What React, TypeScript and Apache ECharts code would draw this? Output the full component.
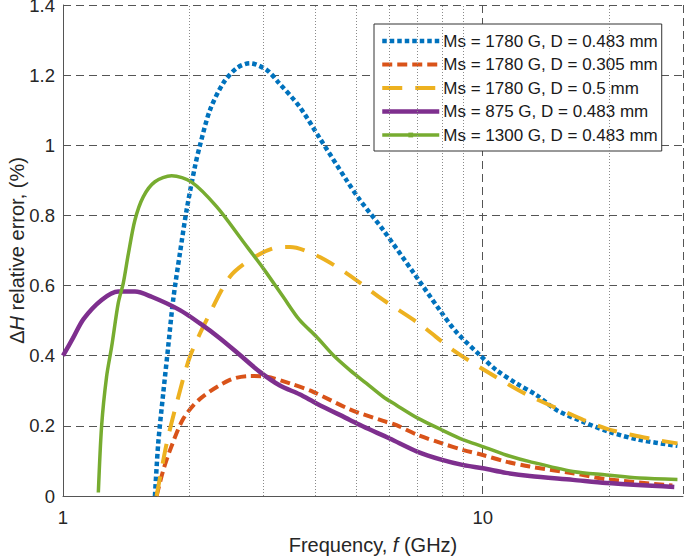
import React, { useEffect, useRef } from "react";
import * as echarts from "echarts";

// ---- data (frequency in GHz, error in %) ----
const blueF = [1.656, 1.686, 1.733, 1.781, 1.83, 1.899, 1.97, 2.062, 2.12, 2.239, 2.408, 2.593, 2.788, 3.055, 3.256, 3.66, 4.09, 4.74, 5.09, 5.78, 6.81, 7.9, 8.66, 9.84, 10.78, 12.03, 13.42, 15, 17.3, 20, 23.6, 29.1];
const blueV = [0, 0.15, 0.293, 0.426, 0.559, 0.692, 0.815, 0.939, 1.0, 1.1, 1.177, 1.22, 1.234, 1.215, 1.18, 1.11, 1.02, 0.9, 0.845, 0.76, 0.64, 0.53, 0.467, 0.402, 0.359, 0.321, 0.288, 0.245, 0.212, 0.183, 0.16, 0.143];

const redF = [1.671, 1.73, 1.798, 1.934, 2.12, 2.498, 2.788, 3.055, 3.471, 3.944, 4.824, 5.79, 6.23, 7, 8, 9, 10, 11.36, 12.94, 16.4, 19.7, 28.3];
const redV = [0, 0.07, 0.13, 0.22, 0.277, 0.331, 0.342, 0.34, 0.321, 0.297, 0.247, 0.214, 0.202, 0.174, 0.15, 0.131, 0.117, 0.098, 0.084, 0.065, 0.048, 0.03];

const yellowF = [1.671, 1.766, 1.865, 2.006, 2.218, 2.498, 2.788, 3.168, 3.47, 4.03, 4.74, 5.78, 7.08, 8.5, 10.39, 12.7, 15.85, 19.7, 25.4, 29.1];
const yellowV = [0, 0.15, 0.264, 0.397, 0.511, 0.625, 0.673, 0.706, 0.71, 0.685, 0.635, 0.56, 0.49, 0.416, 0.35, 0.29, 0.238, 0.192, 0.162, 0.15];

const purpleF = [1.0, 1.056, 1.12, 1.236, 1.354, 1.484, 1.626, 1.899, 2.12, 2.364, 2.64, 2.944, 3.287, 3.66, 4.018, 4.824, 5.19, 6.0, 7, 8, 9, 10, 11.36, 12.94, 16.4, 19.7, 28.6];
const purpleV = [0.4, 0.45, 0.505, 0.559, 0.583, 0.583, 0.568, 0.53, 0.492, 0.45, 0.402, 0.354, 0.315, 0.29, 0.264, 0.217, 0.198, 0.164, 0.126, 0.103, 0.088, 0.079, 0.066, 0.057, 0.046, 0.037, 0.026];

const greenF = [1.214, 1.236, 1.27, 1.306, 1.354, 1.392, 1.431, 1.484, 1.553, 1.656, 1.815, 2.025, 2.323, 2.688, 3.0, 3.346, 3.66, 4.018, 4.4, 4.824, 5.285, 5.79, 6.23, 7, 8, 9, 10, 11.36, 12.94, 16.4, 19.7, 23.6, 29.1];
const greenV = [0.01, 0.2, 0.34, 0.426, 0.55, 0.607, 0.69, 0.787, 0.853, 0.896, 0.913, 0.895, 0.825, 0.725, 0.649, 0.568, 0.502, 0.454, 0.402, 0.359, 0.321, 0.283, 0.259, 0.222, 0.188, 0.16, 0.141, 0.117, 0.098, 0.07, 0.06, 0.051, 0.047];

const seriesNames = [
  "Ms = 1780 G, D = 0.483 mm",
  "Ms = 1780 G, D = 0.305 mm",
  "Ms = 1780 G, D = 0.5 mm",
  "Ms = 875 G, D = 0.483 mm",
  "Ms = 1300 G, D = 0.483 mm",
];
const minorXTicks = [2, 3, 4, 5, 6, 7, 8, 9, 20];
const yMin = 0;
const yMax = 1.4;
const yInterval = 0.2;

const zip = (f: number[], v: number[]) => f.map((x, i) => [x, v[i]]);

const FONT = "'Liberation Sans', Arial, Helvetica, sans-serif";

export default function App() {
  const ref = useRef<HTMLDivElement>(null);
  useEffect(() => {
    if (!ref.current) return;
    const chart = echarts.init(ref.current, undefined, { renderer: "svg" });
    const lineBase = {
      type: "line" as const,
      showSymbol: false,
      symbol: "none",
      smooth: 0.3,
      z: 3,
    };
    const nameStyle = {
      fontSize: 20,
      color: "#262626",
      fontFamily: FONT,
      rich: { i: { fontStyle: "italic", fontSize: 20, color: "#262626", fontFamily: FONT } },
    };
    chart.setOption({
      animation: false,
      backgroundColor: "#ffffff",
      textStyle: { fontFamily: FONT },
      grid: { left: 63, right: 2, top: 5, bottom: 62, containLabel: false, outerBoundsMode: "none" },
      legend: {
        data: seriesNames.map((n, i) => ({
          name: n,
          itemStyle: i === 4 ? { opacity: 1 } : { opacity: 0 },
        })),
        orient: "vertical",
        left: 374,
        top: 24,
        padding: [7, 4, 6, 6],
        itemWidth: 57,
        itemHeight: 6,
        itemGap: 3.5,
        lineStyle: { width: "inherit" },
        backgroundColor: "#ffffff",
        borderColor: "#333333",
        borderWidth: 1,
        borderRadius: 0,
        textStyle: { fontSize: 17, color: "#1a1a1a", fontFamily: FONT, lineHeight: 20, padding: [0, 0, 0, -1] },
      },
      xAxis: {
        type: "log",
        logBase: 10,
        min: 1,
        max: 30,
        name: "Frequency, {i|f} (GHz)",
        nameLocation: "middle",
        nameGap: 39,
        nameMoveOverlap: false,
        nameTextStyle: nameStyle,
        axisLine: { show: true, lineStyle: { color: "#555555", width: 1 } },
        axisTick: { show: false },
        axisLabel: {
          fontSize: 18.5,
          color: "#262626",
          margin: 12,
          formatter: (v: number) => {
            const r = Math.round(v * 1000) / 1000;
            return r === 1 || r === 10 ? String(r) : "";
          },
        },
        splitLine: { show: true, lineStyle: { color: "#555555", type: [8, 5], width: 1 } },
      },
      yAxis: {
        type: "value",
        min: yMin,
        max: yMax,
        interval: yInterval,
        name: "Δ{i|H} relative error, (%)",
        nameLocation: "middle",
        nameGap: 36,
        nameMoveOverlap: false,
        nameTextStyle: nameStyle,
        axisLine: { show: true, lineStyle: { color: "#555555", width: 1 } },
        axisTick: { show: false },
        axisLabel: { fontSize: 18.5, color: "#262626", margin: 8 },
        splitLine: { show: true, lineStyle: { color: "#555555", type: [8, 5], width: 1 } },
      },
      series: [
        {
          type: "line",
          name: "minor-grid",
          data: [],
          silent: true,
          z: 1,
          markLine: {
            silent: true,
            symbol: ["none", "none"],
            label: { show: false },
            lineStyle: { color: "#8a8a8a", type: [1, 2], width: 1 },
            data: minorXTicks.map((v) => ({ xAxis: v })),
          },
        },
        {
          ...lineBase,
          name: seriesNames[0],
          data: zip(blueF, blueV),
          color: "#0072BD",
          lineStyle: { color: "#0072BD", width: 4.5, type: [4.5, 3], cap: "butt" },
        },
        {
          ...lineBase,
          name: seriesNames[1],
          data: zip(redF, redV),
          color: "#D95319",
          lineStyle: { color: "#D95319", width: 4, type: [10, 5], cap: "butt" },
        },
        {
          ...lineBase,
          name: seriesNames[2],
          data: zip(yellowF, yellowV),
          color: "#EDB120",
          lineStyle: { color: "#EDB120", width: 4, type: [20, 13], cap: "butt" },
        },
        {
          ...lineBase,
          name: seriesNames[3],
          data: zip(purpleF, purpleV),
          color: "#7E2F8E",
          lineStyle: { color: "#7E2F8E", width: 4.5, type: "solid" },
        },
        {
          ...lineBase,
          name: seriesNames[4],
          data: zip(greenF, greenV),
          color: "#77AC30",
          symbol: "rect",
          symbolSize: 4,
          itemStyle: { color: "#77AC30" },
          lineStyle: { color: "#77AC30", width: 3.5, type: "solid" },
        },
      ],
    });
    return () => chart.dispose();
  }, []);
  return (
    <div
      ref={ref}
      style={{ position: "absolute", left: 0, top: 0, width: 685, height: 558 }}
    />
  );
}
